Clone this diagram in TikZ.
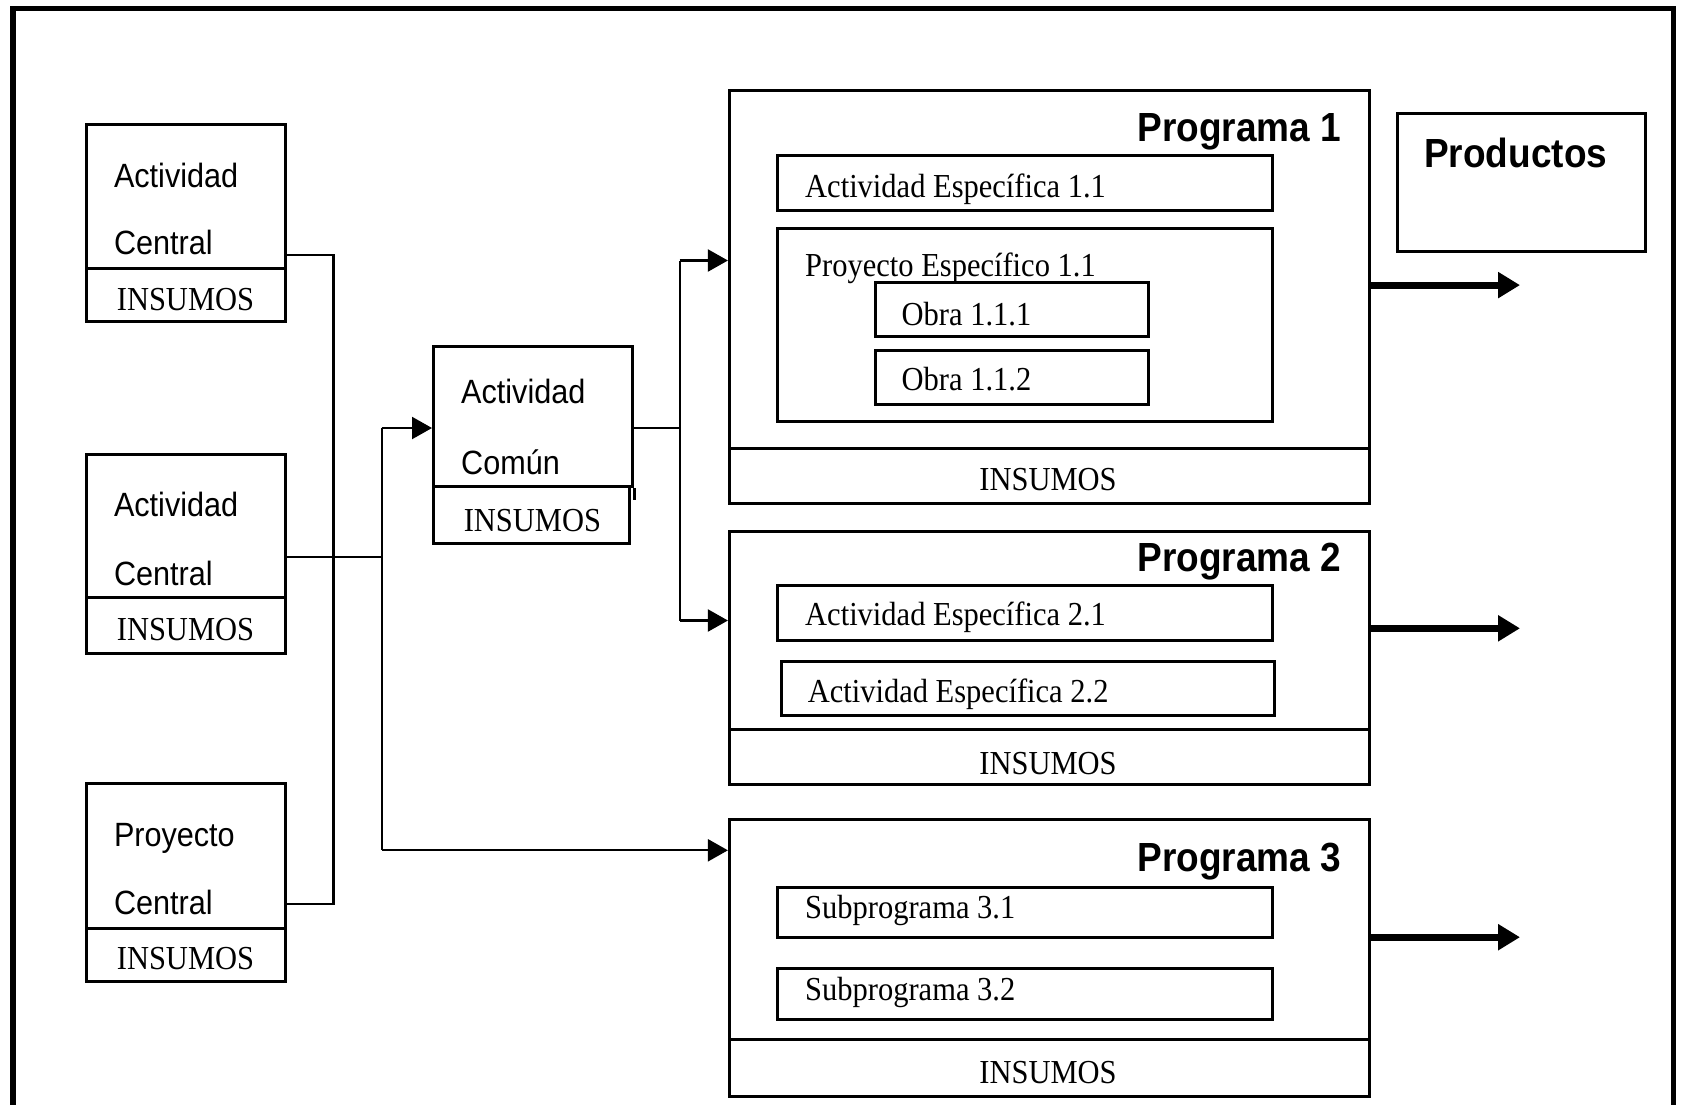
\documentclass[tikz,border=0pt]{standalone}
\usepackage{fontspec}
\usepackage{graphicx}
\setmainfont{Liberation Serif}
\newfontfamily\arialf{Liberation Sans}
\usetikzlibrary{fit,arrows.meta}
\newcommand\tserif[1]{\scalebox{1}[1.1]{\fontsize{30.5pt}{36pt}\selectfont #1}}
\newcommand\tsans[1]{\scalebox{1}[1.1]{\arialf\fontsize{30.6pt}{36pt}\selectfont #1}}
\newcommand\tbold[1]{\scalebox{1}[1.1]{\arialf\bfseries\fontsize{37pt}{44pt}\selectfont #1}}
\begin{document}
\begin{tikzpicture}[x=1pt,y=-1pt,
  box/.style={draw,line width=3pt,inner sep=0pt},
  conn/.style={line width=2.2pt},
  tip/.style={-{Triangle[length=20pt,width=22pt]}},
  bigarrow/.style={line width=6.8pt,-{Triangle[length=22pt,width=25pt]}},
  lbl/.style={inner sep=0pt,anchor=base west},
  clbl/.style={inner sep=0pt,anchor=base},
  rlbl/.style={inner sep=0pt,anchor=base east}]
\fill[white] (0,0) rectangle (1681,1104);
\useasboundingbox (0,0) rectangle (1681,1104);
% outer frame
\draw[line width=5.5pt] (12.9,1110) -- (12.9,8.6) -- (1673.5,8.6) -- (1673.5,1110);

% left boxes
\node[box, fit={(86,124.4) (285.5,268)}] (a1) {};
\node[box, fit={(86,268) (285.5,321.6)}] (a1i) {};
\node[lbl] (a1t1) at (113.8,187.5) {\tsans{Actividad}};
\node[lbl] (a1t2) at (113.8,254.5) {\tsans{Central}};
\node[clbl] (a1t3) at (185.5,310) {\tserif{INSUMOS}};

\node[box, fit={(86,454.3) (285.5,597.7)}] (a2) {};
\node[box, fit={(86,597.7) (285.5,653)}] (a2i) {};
\node[lbl] (a2t1) at (113.8,516.6) {\tsans{Actividad}};
\node[lbl] (a2t2) at (113.8,585.3) {\tsans{Central}};
\node[clbl] (a2t3) at (185.5,640.1) {\tserif{INSUMOS}};

\node[box, fit={(86,783.9) (285.5,928)}] (a3) {};
\node[box, fit={(86,928) (285.5,981.8)}] (a3i) {};
\node[lbl] (a3t1) at (113.8,846.8) {\tsans{Proyecto}};
\node[lbl] (a3t2) at (113.8,914) {\tsans{Central}};
\node[clbl] (a3t3) at (185.5,969.8) {\tserif{INSUMOS}};

% actividad comun
\node[box, fit={(433.5,346) (632.5,486.7)}] (com) {};
\node[box, fit={(433.5,486.7) (629.5,543.5)}] (comi) {};
\draw[line width=3pt] (com.south east) -- ++(0,12);
\node[lbl] (ct1) at (461,403.7) {\tsans{Actividad}};
\node[lbl] (ct2) at (461,474.6) {\tsans{Común}};
\node[clbl] (ct3) at (532.4,531.2) {\tserif{INSUMOS}};

% programa 1
\node[box, fit={(729.4,90.7) (1369.6,448.5)}] (p1) {};
\node[box, fit={(729.4,448.5) (1369.6,503.6)}] (p1i) {};
\node[rlbl] (p1t) at (1341.4,141.6) {\tbold{Programa 1}};
\node[box, fit={(777.6,155.4) (1272,210.5)}] (e11) {};
\node[lbl] (e11t) at (805,197.1) {\tserif{Actividad Específica 1.1}};
\node[box, fit={(777.6,228.1) (1272,421)}] (pe11) {};
\node[lbl] (pe11t) at (805,276) {\tserif{Proyecto Específico 1.1}};
\node[box, fit={(875.8,282.4) (1148,336.8)}] (o111) {};
\node[lbl] (o111t) at (901.5,325.3) {\tserif{Obra 1.1.1}};
\node[box, fit={(875.8,350.6) (1148,404.9)}] (o112) {};
\node[lbl] (o112t) at (901.5,390.4) {\tserif{Obra 1.1.2}};
\node[clbl] (p1it) at (1048,490.6) {\tserif{INSUMOS}};

% productos
\node[box, fit={(1397.7,113.7) (1645,251.4)}] (prod) {};
\node[lbl] (prodt) at (1424,167.6) {\tbold{Productos}};

% programa 2
\node[box, fit={(729.4,531.6) (1369.6,729.6)}] (p2) {};
\node[box, fit={(729.4,729.6) (1369.6,784.3)}] (p2i) {};
\node[rlbl] (p2t) at (1341.4,571.3) {\tbold{Programa 2}};
\node[box, fit={(777.6,585.5) (1272,640.6)}] (e21) {};
\node[lbl] (e21t) at (805,625.2) {\tserif{Actividad Específica 2.1}};
\node[box, fit={(781.4,661) (1274.5,715.7)}] (e22) {};
\node[lbl] (e22t) at (807.6,702.2) {\tserif{Actividad Específica 2.2}};
\node[clbl] (p2it) at (1048,774.3) {\tserif{INSUMOS}};

% programa 3
\node[box, fit={(729.4,819) (1369.6,1039.3)}] (p3) {};
\node[box, fit={(729.4,1039.3) (1369.6,1096.3)}] (p3i) {};
\node[rlbl] (p3t) at (1341.4,871.7) {\tbold{Programa 3}};
\node[box, fit={(777.6,887.1) (1272,937.2)}] (s31) {};
\node[lbl] (s31t) at (805,918) {\tserif{Subprograma 3.1}};
\node[box, fit={(777.6,968) (1272,1019.3)}] (s32) {};
\node[lbl] (s32t) at (805,1000.8) {\tserif{Subprograma 3.2}};
\node[clbl] (p3it) at (1048,1083.6) {\tserif{INSUMOS}};

% connectors, left side
\coordinate (b1) at (333.4,255);
\coordinate (b3) at (333.4,904);
\draw[conn] (a1.east |- b1) -- (b1) -- (b3) -- (a3.east |- b3);
\coordinate (c2) at (381.7,557.3);
\draw[conn] (a2.east |- c2) -- (c2);
\coordinate (ctop) at (381.7,428);
\coordinate (cbot) at (381.7,850.3);
\draw[conn] (ctop) -- (cbot);
\draw[conn,tip] (ctop) -- (com.west |- ctop);
\draw[conn,tip] (cbot) -- (p3.west |- cbot);

% connectors from actividad comun
\coordinate (dm) at (679.6,428);
\coordinate (dt) at (679.6,260.5);
\coordinate (db) at (679.6,620.5);
\draw[conn] (com.east |- dm) -- (dm);
\draw[conn] (dt) -- (db);
\draw[conn,tip] (dt) -- (p1.west |- dt);
\draw[conn,tip] (db) -- (p2.west |- db);

% output arrows
\coordinate (o1) at (1520,285.1);
\coordinate (o2) at (1520,628.3);
\coordinate (o3) at (1520,937.2);
\draw[bigarrow] (p1.east |- o1) -- (o1);
\draw[bigarrow] (p2.east |- o2) -- (o2);
\draw[bigarrow] (p3.east |- o3) -- (o3);
\end{tikzpicture}
\end{document}
